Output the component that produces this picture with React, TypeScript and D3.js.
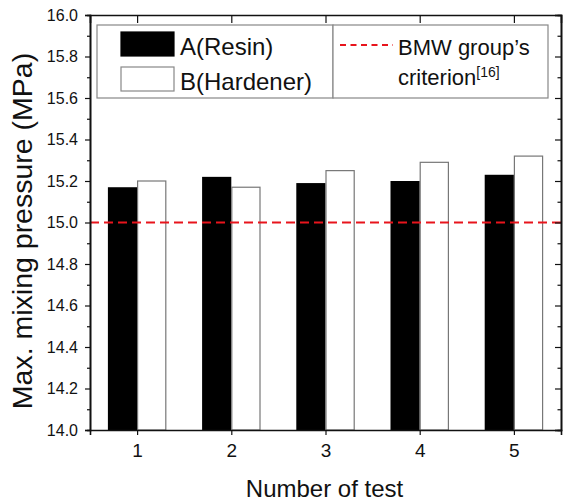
import * as d3 from "d3";
import { useEffect } from "react";

const tests = [1, 2, 3, 4, 5];
const resinValues = [15.17, 15.22, 15.19, 15.2, 15.23];
const hardenerValues = [15.2, 15.17, 15.25, 15.29, 15.32];
const criterion = 15.0;
const yMajorTicks = [14.0, 14.2, 14.4, 14.6, 14.8, 15.0, 15.2, 15.4, 15.6, 15.8, 16.0];
const yMinorTicks = [14.1, 14.3, 14.5, 14.7, 14.9, 15.1, 15.3, 15.5, 15.7, 15.9];
const seriesNames = ["A(Resin)", "B(Hardener)"];

const FONT = "Arial, 'Liberation Sans', sans-serif";

const MixingPressureChart = () => {
  useEffect(() => {
    d3.select("#mixing_chart").selectAll("*").remove();

    const margin = { top: 15, right: 7, bottom: 74, left: 90 },
      width = 568 - margin.left - margin.right,
      height = 504 - margin.top - margin.bottom;

    const root = d3
      .select("#mixing_chart")
      .append("svg")
      .attr("width", 568)
      .attr("height", 504)
      .style("position", "absolute")
      .style("left", "0px")
      .style("top", "0px")
      .style("background", "#fff");

    const svg = root
      .append("g")
      .attr("transform", `translate(${margin.left},${margin.top})`);

    const x = d3.scaleLinear().domain([0.5, 5.5]).range([0, width]);
    const y = d3.scaleLinear().domain([14, 16]).range([height, 0]);
    const barW = 0.31; // in category units

    // bars
    svg
      .selectAll(".barA")
      .data(tests)
      .enter()
      .append("rect")
      .attr("x", (d) => x(d - barW))
      .attr("y", (_d, i) => y(resinValues[i]))
      .attr("width", x(barW) - x(0))
      .attr("height", (_d, i) => height - y(resinValues[i]))
      .attr("fill", "#000");

    svg
      .selectAll(".barB")
      .data(tests)
      .enter()
      .append("rect")
      .attr("x", (d) => x(d) + 0.5)
      .attr("y", (_d, i) => y(hardenerValues[i]))
      .attr("width", x(barW) - x(0) - 1)
      .attr("height", (_d, i) => height - y(hardenerValues[i]))
      .attr("fill", "#fff")
      .attr("stroke", "#777")
      .attr("stroke-width", 1.2);

    // criterion line
    svg
      .append("line")
      .attr("x1", 0)
      .attr("x2", width)
      .attr("y1", y(criterion))
      .attr("y2", y(criterion))
      .attr("stroke", "#e8141c")
      .attr("stroke-width", 2.2)
      .attr("stroke-dasharray", "9,5");

    const styleAxis = (g: any) => {
      g.select(".domain").attr("stroke", "#111").attr("stroke-width", 1.6);
      g.selectAll(".tick line").attr("stroke", "#111").attr("stroke-width", 1.2);
      g.selectAll("text").style("font-family", FONT).attr("fill", "#111");
    };

    // left axis
    svg
      .append("g")
      .call(
        d3
          .axisLeft(y)
          .tickValues(yMajorTicks)
          .tickSize(5)
          .tickPadding(7)
          .tickFormat(d3.format(".1f") as any)
      )
      .call(styleAxis)
      .selectAll("text")
      .style("font-size", "16px");
    svg
      .append("g")
      .call(d3.axisLeft(y).tickValues(yMinorTicks).tickSize(3).tickFormat("" as any))
      .call(styleAxis);

    // right axis (inward ticks)
    svg
      .append("g")
      .attr("transform", `translate(${width},0)`)
      .call(d3.axisLeft(y).tickValues(yMajorTicks).tickSize(6).tickFormat("" as any))
      .call(styleAxis);
    svg
      .append("g")
      .attr("transform", `translate(${width},0)`)
      .call(d3.axisLeft(y).tickValues(yMinorTicks).tickSize(3.5).tickFormat("" as any))
      .call(styleAxis);

    // bottom axis
    svg
      .append("g")
      .attr("transform", `translate(0,${height})`)
      .call(
        d3
          .axisBottom(x)
          .tickValues(tests)
          .tickSize(5)
          .tickPadding(9)
          .tickFormat(d3.format("d") as any)
      )
      .call(styleAxis)
      .selectAll("text")
      .style("font-size", "19px");

    // top axis (inward ticks)
    svg
      .append("g")
      .call(d3.axisBottom(x).tickValues(tests).tickSize(8).tickFormat("" as any))
      .call(styleAxis);

    // axis titles
    root
      .append("text")
      .attr("x", margin.left + width / 2 - 1)
      .attr("y", 497)
      .attr("text-anchor", "middle")
      .style("font-family", FONT)
      .style("font-size", "24px")
      .attr("fill", "#111")
      .text("Number of test");

    root
      .append("text")
      .attr("transform", "translate(32,231) rotate(-90)")
      .attr("text-anchor", "middle")
      .style("font-family", FONT)
      .style("font-size", "28.5px")
      .attr("fill", "#111")
      .text("Max. mixing pressure (MPa)");

    // legend: series box
    const leg = root.append("g");
    leg
      .append("rect")
      .attr("x", 97)
      .attr("y", 25)
      .attr("width", 236)
      .attr("height", 73)
      .attr("fill", "#fff")
      .attr("stroke", "#888")
      .attr("stroke-width", 1.2);
    seriesNames.forEach((name, i) => {
      leg
        .append("rect")
        .attr("x", 121)
        .attr("y", 32 + i * 35)
        .attr("width", 53)
        .attr("height", 24)
        .attr("fill", i === 0 ? "#000" : "#fff")
        .attr("stroke", i === 0 ? "#000" : "#888")
        .attr("stroke-width", 1.2);
      leg
        .append("text")
        .attr("x", 180)
        .attr("y", 55 + i * 35)
        .style("font-family", FONT)
        .style("font-size", "24px")
        .attr("fill", "#111")
        .text(name);
    });

    // legend: criterion box
    leg
      .append("rect")
      .attr("x", 333)
      .attr("y", 25)
      .attr("width", 215)
      .attr("height", 73)
      .attr("fill", "#fff")
      .attr("stroke", "#888")
      .attr("stroke-width", 1.2);
    leg
      .append("line")
      .attr("x1", 340)
      .attr("x2", 393)
      .attr("y1", 45)
      .attr("y2", 45)
      .attr("stroke", "#e8141c")
      .attr("stroke-width", 2)
      .attr("stroke-dasharray", "6,4.5");
    leg
      .append("text")
      .attr("x", 398)
      .attr("y", 55)
      .style("font-family", FONT)
      .style("font-size", "22px")
      .attr("fill", "#111")
      .text("BMW group\u2019s");
    const crit = leg
      .append("text")
      .attr("x", 398)
      .attr("y", 85)
      .style("font-family", FONT)
      .style("font-size", "22px")
      .attr("fill", "#111");
    crit.append("tspan").text("criterion");
    crit
      .append("tspan")
      .attr("dy", -8)
      .style("font-size", "14px")
      .text("[16]");
  }, []);

  return <div id="mixing_chart" />;
};

export default function App() {
  return <MixingPressureChart />;
}
